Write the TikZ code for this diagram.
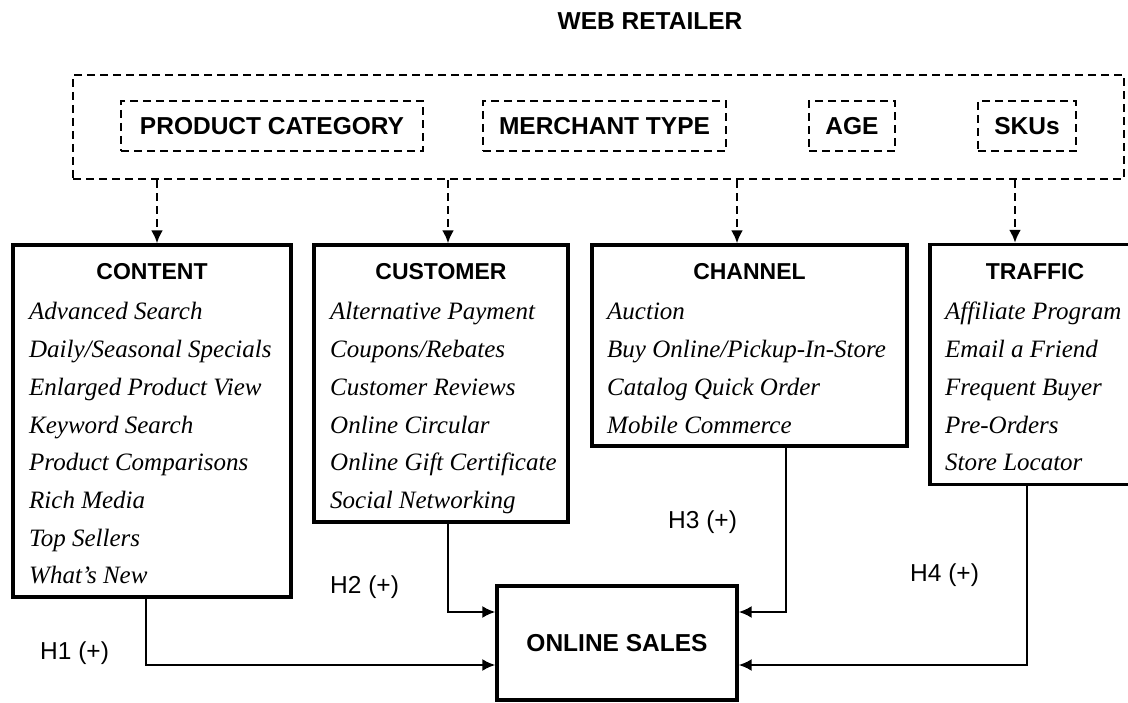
\documentclass[tikz,border=0pt]{standalone}
\usepackage{fontspec}
\setmainfont{Liberation Serif}
\setsansfont{Liberation Sans}
\usetikzlibrary{arrows.meta,positioning,calc}

\tikzset{
  dbox/.style={draw,line width=2.7pt,dash pattern=on 8pt off 5pt,inner sep=0pt},
  sbox/.style={draw,line width=3.3pt,inner sep=0pt},
  hdr/.style={font=\fontsize{23}{23}\selectfont\sffamily\bfseries,inner sep=0pt,anchor=base},
  lab/.style={font=\fontsize{24.5}{24.5}\selectfont\sffamily\bfseries,inner sep=0pt},
  item/.style={font=\fontsize{25}{25}\selectfont\itshape,inner sep=0pt,anchor=base west},
  hyp/.style={font=\fontsize{24.5}{24.5}\selectfont\sffamily,inner sep=0pt,anchor=base west},
  dasharr/.style={-{Latex[length=13pt,width=12pt]},line width=2.6pt,dash pattern=on 8pt off 5pt},
  link/.style={-{Latex[length=13pt,width=12pt]},line width=2.3pt},
}

\begin{document}
\begin{tikzpicture}[x=1pt,y=-1pt]
\useasboundingbox (0,0) rectangle (1128,703);
\clip (0,0) rectangle (1128,703);

% retailer characteristics
\node[lab] (title) at (650,21) {WEB RETAILER};
\node[dbox,minimum width=1051pt,minimum height=104pt] (outer) at (598.5,127) {};
\node[dbox,lab,minimum width=302pt,minimum height=50pt] (prodcat) at (272,126) {PRODUCT CATEGORY};
\node[dbox,lab,minimum width=243pt,minimum height=50pt] (merchant) at (604.5,126) {MERCHANT TYPE};
\node[dbox,lab,minimum width=86pt,minimum height=50pt] (age) at (852,126) {AGE};
\node[dbox,lab,minimum width=98pt,minimum height=50pt] (skus) at (1027,126) {SKUs};

% website features
\node[sbox,minimum width=278pt,minimum height=352pt] (content) at (152,421) {};
\node[sbox,minimum width=254pt,minimum height=277pt] (customer) at (441,383.5) {};
\node[sbox,minimum width=315pt,minimum height=201pt] (channel) at (749.5,345.5) {};
\node[sbox,minimum width=210pt,minimum height=240pt] (traffic) at (1035,364.5) {};

\node[hdr] (contenthd) at (152,280) {CONTENT};
\node[hdr] (customerhd) at (441,280) {CUSTOMER};
\node[hdr] (channelhd) at (749.5,280) {CHANNEL};
\node[hdr] (traffichd) at (1035,280) {TRAFFIC};

\foreach \t [count=\i] in {Advanced Search,Daily/Seasonal Specials,Enlarged Product View,Keyword Search,Product Comparisons,Rich Media,Top Sellers,What’s New}
  \node[item] (cont-\i) at (29,{320+37.7*(\i-1)}) {\t};
\foreach \t [count=\i] in {Alternative Payment,Coupons/Rebates,Customer Reviews,Online Circular,Online Gift Certificate,Social Networking}
  \node[item] (cust-\i) at (330,{320+37.7*(\i-1)}) {\t};
\foreach \t [count=\i] in {Auction,Buy Online/Pickup-In-Store,Catalog Quick Order,Mobile Commerce}
  \node[item] (chan-\i) at (607,{320+37.7*(\i-1)}) {\t};
\foreach \t [count=\i] in {Affiliate Program,Email a Friend,Frequent Buyer,Pre-Orders,Store Locator}
  \node[item] (traf-\i) at (945,{320+37.7*(\i-1)}) {\t};

% outcome
\node[sbox,lab,minimum width=240pt,minimum height=114pt] (sales) at (617,643) {ONLINE SALES};

\draw[dasharr] ([xshift=5pt]content.north |- outer.south) -- ([xshift=5pt]content.north);
\draw[dasharr] ([xshift=7pt]customer.north |- outer.south) -- ([xshift=7pt]customer.north);
\draw[dasharr] ([xshift=-12.5pt]channel.north |- outer.south) -- ([xshift=-12.5pt]channel.north);
\draw[dasharr] ([xshift=-20pt]traffic.north |- outer.south) -- ([xshift=-20pt]traffic.north);

\draw[link] ([xshift=-6pt]content.south) |- ([yshift=-22pt]sales.west);
\draw[link] ([xshift=7pt]customer.south) |- ([yshift=31pt]sales.west);
\draw[link] ([xshift=36.5pt]channel.south) |- ([yshift=31pt]sales.east);
\draw[link] ([xshift=-8pt]traffic.south) |- ([yshift=-22pt]sales.east);

\node[hyp] (h1) at (40,659) {H1 (+)};
\node[hyp] (h2) at (330,593) {H2 (+)};
\node[hyp] (h3) at (668,528) {H3 (+)};
\node[hyp] (h4) at (910,581) {H4 (+)};
\end{tikzpicture}
\end{document}
